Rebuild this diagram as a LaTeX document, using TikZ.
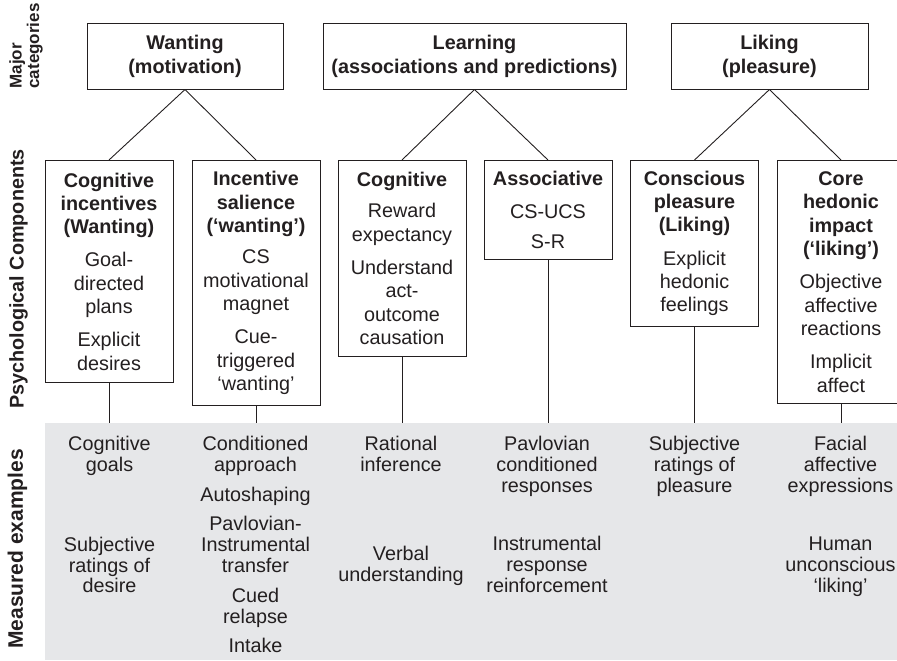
\documentclass[tikz,border=0pt]{standalone}
\usepackage{fontspec}
\setmainfont{Liberation Sans}
\usepackage{tikz}

\definecolor{bandgray}{RGB}{230,231,233}
\definecolor{ink}{RGB}{35,31,32}
\newcommand{\hd}[1]{\textbf{#1}}

\begin{document}
\begin{tikzpicture}[x=1pt, y=-1pt,
    catbox/.style={draw=ink, line width=1pt, text=ink, align=center, minimum height=65pt,
      font=\bfseries\fontsize{19.8}{23.5}\selectfont},
    compbox/.style={draw=ink, line width=1pt, text=ink, align=center, anchor=north,
      minimum width=128pt, font=\fontsize{19.8}{23.3}\selectfont},
    example/.style={text=ink, align=center, anchor=north, inner sep=0pt,
      font=\fontsize{19.8}{20.8}\selectfont},
    sidelabel/.style={text=ink, rotate=90, font=\bfseries\fontsize{19.8}{21}\selectfont},
    link/.style={draw=ink, line width=0.9pt}]

    \useasboundingbox (0,0) rectangle (897,661);

    % Draw the band of measured examples
    \node[fill=bandgray, inner sep=0pt, anchor=north west, minimum width=852pt,
      minimum height=237pt] (band) at (45,423) {};

    % Major categories
    \node[catbox, minimum width=196pt] (want) at (185,56.5) {Wanting\\(motivation)};
    \node[catbox, minimum width=303pt] (learn) at (474.5,56.5) {Learning\\(associations and predictions)};
    \node[catbox, minimum width=197pt] (like) at (769.5,56.5) {Liking\\(pleasure)};

    % Psychological components
    \node[compbox, minimum height=222pt] (coginc) at (109,160)
      {\hd{Cognitive}\\\hd{incentives}\\\hd{(Wanting)}\\[10pt]Goal-\\directed\\plans\\[10pt]Explicit\\desires};
    \node[compbox, minimum height=245pt] (incsal) at (256,160)
      {\hd{Incentive}\\\hd{salience}\\\hd{(‘wanting’)}\\[8pt]CS\\motivational\\magnet\\[10pt]Cue-\\triggered\\‘wanting’};
    \node[compbox, minimum height=196pt] (cogn) at (402,160)
      {\hd{Cognitive}\\[8pt]Reward\\expectancy\\[10pt]Understand\\act-\\outcome\\causation};
    \node[compbox, minimum height=99pt] (assoc) at (548,160)
      {\hd{Associative}\\[9pt]CS-UCS\\[7pt]S-R};
    \node[compbox, minimum height=166pt] (consc) at (694.5,160)
      {\hd{Conscious}\\\hd{pleasure}\\\hd{(Liking)}\\[10pt]Explicit\\hedonic\\feelings};
    \node[compbox, minimum height=243pt] (core) at (841,160)
      {\hd{Core}\\\hd{hedonic}\\\hd{impact}\\\hd{(‘liking’)}\\[10pt]Objective\\affective\\reactions\\[10pt]Implicit\\affect};

    % Draw the branches
    \draw[link] (want.south) -- (coginc.north);
    \draw[link] (want.south) -- (incsal.north);
    \draw[link] (learn.south) -- (cogn.north);
    \draw[link] (learn.south) -- (assoc.north);
    \draw[link] (like.south) -- (consc.north);
    \draw[link] (like.south) -- (core.north);

    % Drop lines into the band
    \foreach \c in {coginc,incsal,cogn,assoc,consc,core}
      \draw[link] (\c.south) -- (\c.south |- band.north);

    % Measured examples
    \node[example] (exa) at (109.5,436) {Cognitive\\goals\\[59.2pt]Subjective\\ratings of\\desire};
    \node[example] (exb) at (255.5,436) {Conditioned\\approach\\[9pt]Autoshaping\\[9pt]Pavlovian-\\Instrumental\\transfer\\[9pt]Cued\\relapse\\[9pt]Intake};
    \node[example] (exc) at (401,436) {Rational\\inference\\[68.4pt]Verbal\\understanding};
    \node[example] (exd) at (547,436) {Pavlovian\\conditioned\\responses\\[37.6pt]Instrumental\\response\\reinforcement};
    \node[example] (exe) at (694.5,436) {Subjective\\ratings of\\pleasure};
    \node[example] (exf) at (840.5,436) {Facial\\affective\\expressions\\[37.6pt]Human\\unconscious\\‘liking’};

    % Row labels
    \node[sidelabel, align=left, font=\bfseries\fontsize{17}{17.5}\selectfont] (majlab) at (26,46) {Major\\categories};
    \node[sidelabel] (psylab) at (18.5,279) {Psychological Components};
    \node[sidelabel, font=\bfseries\fontsize{21}{22}\selectfont] (measlab) at (17.5,549) {Measured examples};
\end{tikzpicture}
\end{document}
